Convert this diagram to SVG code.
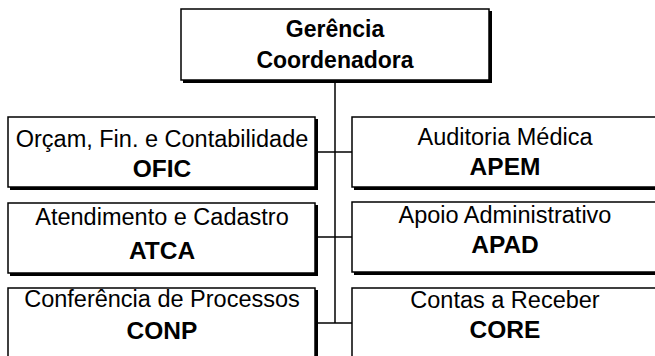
<svg xmlns="http://www.w3.org/2000/svg" width="655" height="356" viewBox="0 0 655 356">
<style>
.sh{fill:#000}
.bx{fill:#fff;stroke:#000;stroke-width:1.5}
.t{font-family:"Liberation Sans",Arial,sans-serif;font-size:23.5px;text-anchor:middle;fill:#000}
.b{font-weight:bold;font-size:24.5px}
.h{font-weight:bold;font-size:23px}
.c{stroke:#000;stroke-width:1.5;fill:none}
</style>
<rect width="655" height="356" fill="#fff"/>
<g id="connectors">
<line class="c" x1="335" y1="81" x2="335" y2="323"/>
<line class="c" x1="316" y1="152" x2="352" y2="152"/>
<line class="c" x1="316" y1="237" x2="352" y2="237"/>
<line class="c" x1="316" y1="323" x2="352" y2="323"/>
</g>
<g id="gerencia">
<rect class="sh" x="183" y="11" width="309" height="72"/>
<rect class="bx" x="181" y="9" width="308" height="71"/>
<text class="t h" x="335" y="37">Gerência</text>
<text class="t h" x="335" y="68">Coordenadora</text>
</g>
<g id="ofic">
<rect class="sh" x="10" y="119" width="308" height="71"/>
<rect class="bx" x="8" y="117" width="307" height="70"/>
<text class="t" x="162" y="147">Orçam, Fin. e Contabilidade</text>
<text class="t b" x="162" y="177">OFIC</text>
</g>
<g id="atca">
<rect class="sh" x="10" y="205" width="308" height="71"/>
<rect class="bx" x="8" y="203" width="307" height="70"/>
<text class="t" x="162" y="225">Atendimento e Cadastro</text>
<text class="t b" x="162" y="259">ATCA</text>
</g>
<g id="conp">
<rect class="sh" x="10" y="290" width="308" height="80"/>
<rect class="bx" x="8" y="288" width="307" height="80"/>
<text class="t" x="162" y="307">Conferência de Processos</text>
<text class="t b" x="162" y="339">CONP</text>
</g>
<g id="apem">
<rect class="sh" x="354" y="119" width="308" height="71"/>
<rect class="bx" x="352" y="117" width="307" height="70"/>
<text class="t" x="505" y="145">Auditoria Médica</text>
<text class="t b" x="505" y="175">APEM</text>
</g>
<g id="apad">
<rect class="sh" x="354" y="204" width="308" height="71"/>
<rect class="bx" x="352" y="202" width="307" height="70"/>
<text class="t" x="505" y="223">Apoio Administrativo</text>
<text class="t b" x="505" y="253">APAD</text>
</g>
<g id="core">
<rect class="sh" x="354" y="290" width="308" height="80"/>
<rect class="bx" x="352" y="288" width="307" height="80"/>
<text class="t" x="505" y="308">Contas a Receber</text>
<text class="t b" x="505" y="338">CORE</text>
</g>
</svg>
